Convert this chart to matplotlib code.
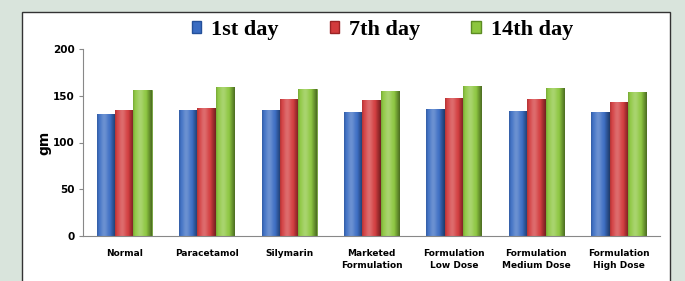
import numpy as np
import matplotlib.pyplot as plt
from matplotlib.patches import Rectangle, Patch
from matplotlib.colors import to_rgb

# data
groups = ['Normal', 'Paracetamol', 'Silymarin', 'Marketed\nFormulation',
          'Formulation\nLow Dose', 'Formulation\nMedium Dose', 'Formulation\nHigh Dose']
day1 = [130, 135, 135, 133, 136, 134, 133]
day7 = [135, 137, 147, 145, 148, 147, 143]
day14 = [156, 159, 157, 155, 160, 158, 154]
series_names = ['1st day', '7th day', '14th day']
colors = ['#3a6cc2', '#d23b3d', '#8cc63e']
edges = ['#24509a', '#9a2325', '#5c8c22']


def shade(ax, bar, color):
    # fake the cylinder look: dark edges, light band left of centre
    c = np.array(to_rgb(color))
    t = np.linspace(0, 1, 40)
    light = np.exp(-((t - 0.38) / 0.22) ** 2)
    dark = np.clip(np.abs(t - 0.4) - 0.3, 0, None) * 1.5
    img = c[None, :] * (1 - dark[:, None]) + (1 - c[None, :]) * 0.25 * light[:, None]
    img = np.clip(img, 0, 1)[None, :, :]
    x0, y0 = bar.get_x(), bar.get_y()
    im = ax.imshow(img, extent=(x0, x0 + bar.get_width(), y0, y0 + bar.get_height()),
                   aspect='auto', interpolation='bilinear', zorder=bar.get_zorder())
    im.set_clip_path(bar)


def main():
    fig = plt.figure(figsize=(6.85, 2.81), dpi=100)
    fig.patch.set_facecolor('#d9e4dc')

    # white panel with dark border, kept behind the axes
    panel = Rectangle((22 / 685, -0.05), 648 / 685, 1 - 12 / 281 + 0.05,
                      transform=fig.transFigure, facecolor='white',
                      edgecolor='#333333', linewidth=1.0, zorder=-10)
    fig.add_artist(panel)

    ax = fig.add_axes([83 / 685, 1 - 236 / 281, 577 / 685, 187 / 281])
    ax.set_facecolor('none')
    ax.set_zorder(5)

    x = np.arange(len(groups))
    w = 0.222
    for i, vals in enumerate([day1, day7, day14]):
        bars = ax.bar(x + (i - 1) * w, vals, width=w, color=colors[i],
                      edgecolor=edges[i], linewidth=0.5, label=series_names[i])
        for b in bars:
            shade(ax, b, colors[i])

    ax.set_xlim(-0.5, len(groups) - 0.5)
    ax.set_ylim(0, 200)
    ax.set_yticks([0, 50, 100, 150, 200])
    ax.set_xticks(x)
    ax.set_xticklabels(groups, fontsize=6.5, fontweight='bold', linespacing=1.55)
    ax.tick_params(axis='x', length=0, pad=9)
    ax.tick_params(axis='y', length=3, color='#888888', labelsize=7.5, pad=3)
    for lab in ax.get_yticklabels():
        lab.set_fontweight('bold')
    for s in ['top', 'right']:
        ax.spines[s].set_visible(False)
    for s in ['left', 'bottom']:
        ax.spines[s].set_color('#888888')
    ax.set_ylabel('gm', fontsize=10, fontweight='bold', labelpad=1)

    handles = [Patch(facecolor=colors[i], edgecolor=edges[i]) for i in range(3)]
    fig.legend(handles, series_names, loc='center', ncol=3,
               bbox_to_anchor=(0.558, 0.893), frameon=False,
               prop={'family': 'Liberation Serif', 'weight': 'bold', 'size': 16},
               handlelength=0.42, handleheight=0.42, handletextpad=0.45,
               columnspacing=2.3)

    fig.savefig('out.png', dpi=100, facecolor=fig.get_facecolor())


if __name__ == "__main__":
    main()
